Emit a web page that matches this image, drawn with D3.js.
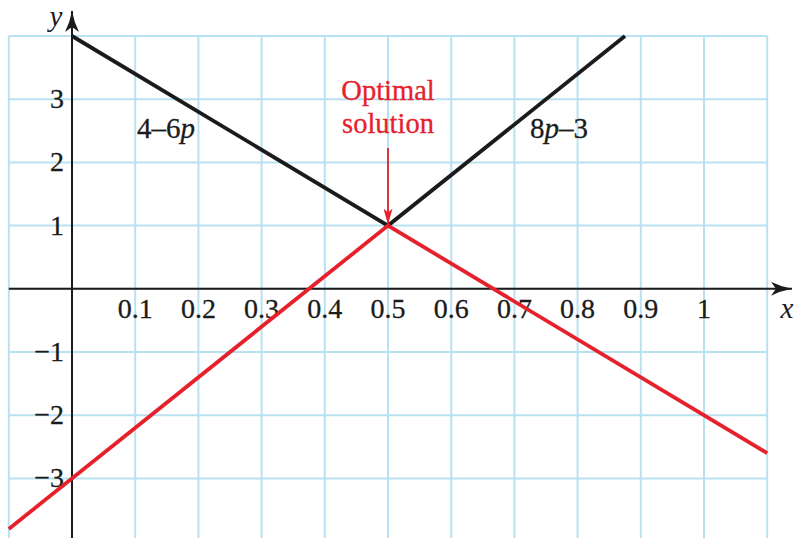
<!DOCTYPE html>
<html>
<head>
<meta charset="utf-8">
<script src="https://cdn.jsdelivr.net/npm/d3@7"></script>
<style>
  html, body { margin: 0; padding: 0; background: #fff; }
  svg { display: block; }
  text { font-family: "Liberation Serif", "Times New Roman", serif; }
</style>
</head>
<body>
<svg id="chart" width="795" height="538"></svg>
<script>
// Value of each pure strategy p against the two opponent responses
const xDomain = [-0.1, 1.1];
const yDomain = [-4, 4];
const xGrid = [-0.1, 0, 0.1, 0.2, 0.3, 0.4, 0.5, 0.6, 0.7, 0.8, 0.9, 1, 1.1];
const yGrid = [4, 3, 2, 1, 0, -1, -2, -3, -4];
const xTickValues = [0.1, 0.2, 0.3, 0.4, 0.5, 0.6, 0.7, 0.8, 0.9, 1];
const xTickLabels = ["0.1", "0.2", "0.3", "0.4", "0.5", "0.6", "0.7", "0.8", "0.9", "1"];
const yTickValues = [3, 2, 1, -1, -2, -3];
const yTickLabels = ["3", "2", "1", "\u22121", "\u22122", "\u22123"];

// Upper envelope pieces (black) and lower envelope (red)
const upperLine = [
  { p: 0, v: 4 },
  { p: 0.5, v: 1 },
  { p: 0.875, v: 4 }
];
const lowerLine = [
  { p: -0.1, v: -3.8 },
  { p: 0.5, v: 1 },
  { p: 1.1, v: -2.6 }
];
const optimum = { p: 0.5, v: 1 };

const svg = d3.select("#chart");
const x = d3.scaleLinear().domain(xDomain).range([8.8, 767.2]);
const y = d3.scaleLinear().domain(yDomain).range([541.6, 36.0]);

const gridColor = "#b9e1f1";
const red = "#e5212b";
const ink = "#1b1b1b";
const fs = 28;

// Grid
const grid = svg.append("g");
grid.selectAll("line.v").data(xGrid).join("line")
  .attr("x1", d => x(d)).attr("x2", d => x(d))
  .attr("y1", y(4)).attr("y2", y(-4))
  .attr("stroke", gridColor).attr("stroke-width", 2);
grid.selectAll("line.h").data(yGrid).join("line")
  .attr("x1", x(xDomain[0])).attr("x2", x(xDomain[1]))
  .attr("y1", d => y(d)).attr("y2", d => y(d))
  .attr("stroke", gridColor).attr("stroke-width", 2);

// Arrowheads
const defs = svg.append("defs");
defs.append("marker")
  .attr("id", "axisHead").attr("viewBox", "0 0 21 14")
  .attr("refX", 21).attr("refY", 7)
  .attr("markerWidth", 21).attr("markerHeight", 14)
  .attr("markerUnits", "userSpaceOnUse").attr("orient", "auto")
  .append("path").attr("d", "M0,0 Q10,5 21,7 Q10,9 0,14 L5,7 Z").attr("fill", ink);
defs.append("marker")
  .attr("id", "redHead").attr("viewBox", "0 0 16 9")
  .attr("refX", 16).attr("refY", 4.5)
  .attr("markerWidth", 16).attr("markerHeight", 9)
  .attr("markerUnits", "userSpaceOnUse").attr("orient", "auto")
  .append("path").attr("d", "M0,0 L16,4.5 L0,9 L4,4.5 Z").attr("fill", red);

// Axes
svg.append("line")
  .attr("x1", x(xDomain[0])).attr("x2", 792)
  .attr("y1", y(0)).attr("y2", y(0))
  .attr("stroke", ink).attr("stroke-width", 2)
  .attr("marker-end", "url(#axisHead)");
svg.append("line")
  .attr("x1", x(0)).attr("x2", x(0))
  .attr("y1", 538).attr("y2", 11)
  .attr("stroke", ink).attr("stroke-width", 2)
  .attr("marker-end", "url(#axisHead)");

// Tick labels
svg.append("g").selectAll("text").data(xTickValues).join("text")
  .attr("x", d => x(d)).attr("y", y(0) + 29)
  .attr("text-anchor", "middle")
  .attr("font-size", fs).attr("fill", ink)
  .attr("stroke", ink).attr("stroke-width", 0.3)
  .text((d, i) => xTickLabels[i]);
svg.append("g").selectAll("text").data(yTickValues).join("text")
  .attr("x", x(0) - 8).attr("y", d => y(d) + 9)
  .attr("text-anchor", "end")
  .attr("font-size", fs).attr("fill", ink)
  .attr("stroke", ink).attr("stroke-width", 0.3)
  .text((d, i) => yTickLabels[i]);

// Axis names
svg.append("text").attr("x", 56).attr("y", 26)
  .attr("text-anchor", "middle").attr("font-style", "italic")
  .attr("font-size", 29).attr("fill", ink).text("y");
svg.append("text").attr("x", 787).attr("y", 318)
  .attr("text-anchor", "middle").attr("font-style", "italic")
  .attr("font-size", 29).attr("fill", ink).text("x");

// Lines
const line = d3.line().x(d => x(d.p)).y(d => y(d.v));
svg.append("path").datum(upperLine)
  .attr("d", line).attr("fill", "none")
  .attr("stroke", ink).attr("stroke-width", 3.8);
svg.append("path").datum(lowerLine)
  .attr("d", line).attr("fill", "none")
  .attr("stroke", red).attr("stroke-width", 3.8);

// Line labels
const lbl1 = svg.append("text").attr("x", 137).attr("y", 138)
  .attr("font-size", 29).attr("fill", ink)
  .attr("stroke", ink).attr("stroke-width", 0.3);
lbl1.append("tspan").text("4\u20136");
lbl1.append("tspan").attr("font-style", "italic").text("p");
const lbl2 = svg.append("text").attr("x", 530).attr("y", 138)
  .attr("font-size", 29).attr("fill", ink)
  .attr("stroke", ink).attr("stroke-width", 0.3);
lbl2.append("tspan").text("8");
lbl2.append("tspan").attr("font-style", "italic").text("p");
lbl2.append("tspan").text("\u20133");

// Optimal solution annotation
const note = svg.append("text").attr("x", x(optimum.p)).attr("y", 100)
  .attr("text-anchor", "middle").attr("font-size", 28.5).attr("fill", red)
  .attr("stroke", red).attr("stroke-width", 0.3);
note.append("tspan").attr("x", x(optimum.p)).attr("dy", 0).text("Optimal");
note.append("tspan").attr("x", x(optimum.p)).attr("dy", 33).text("solution");
svg.append("line")
  .attr("x1", x(optimum.p)).attr("x2", x(optimum.p))
  .attr("y1", 148).attr("y2", y(optimum.v) - 1)
  .attr("stroke", red).attr("stroke-width", 1.8)
  .attr("marker-end", "url(#redHead)");
</script>
</body>
</html>
